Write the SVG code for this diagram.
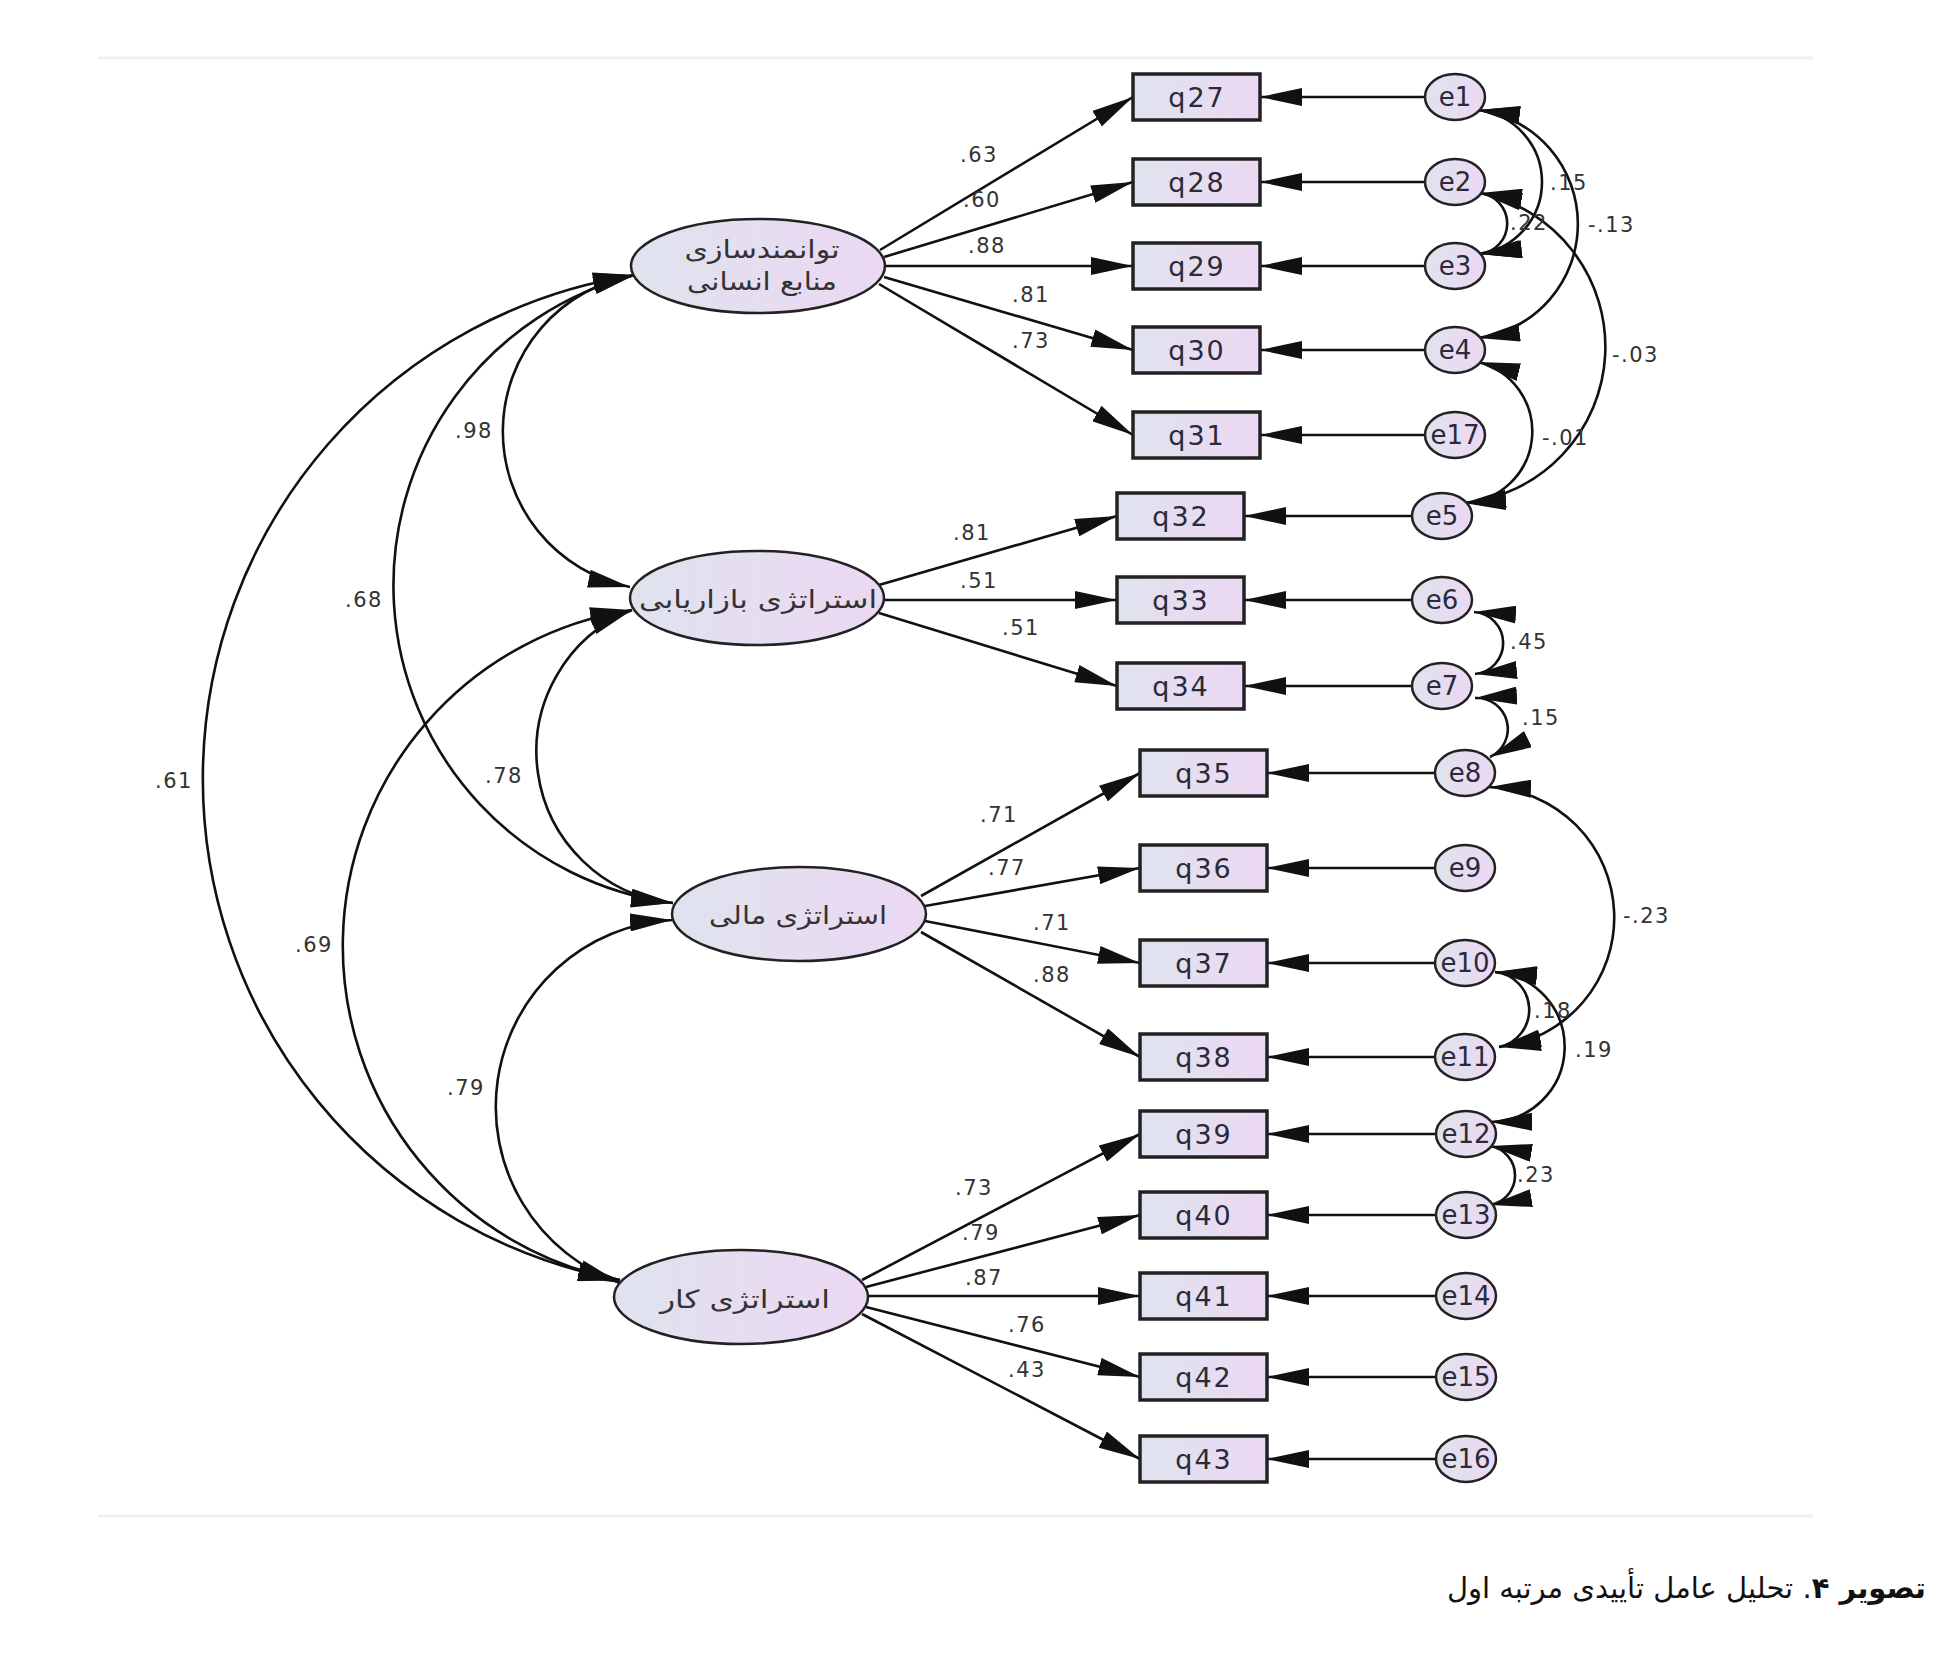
<svg xmlns="http://www.w3.org/2000/svg" width="1953" height="1670" viewBox="0 0 1953 1670">
<defs>
<linearGradient id="g" x1="0" y1="0" x2="1" y2="0">
<stop offset="0" stop-color="#dfe3ee"/>
<stop offset="1" stop-color="#ecd8f3"/>
</linearGradient>
<marker id="ah" markerUnits="userSpaceOnUse" viewBox="0 0 42 18" refX="42" refY="9" markerWidth="42" markerHeight="18" orient="auto-start-reverse">
<path d="M0,0 L42,9 L0,18 Z" fill="#111"/>
</marker>
<style>
.lat{fill:url(#g);stroke:#222;stroke-width:2.5}
.box{fill:url(#g);stroke:#222;stroke-width:3.5}
.err{fill:url(#g);stroke:#222;stroke-width:2.5}
.ln{stroke:#111;stroke-width:2.6;fill:none;marker-end:url(#ah)}
.cov{stroke:#111;stroke-width:2.6;fill:none;marker-start:url(#ah);marker-end:url(#ah)}
.lbl{font-family:"DejaVu Sans",sans-serif;font-size:21px;fill:#333;letter-spacing:1.5px}
.qt{font-family:"DejaVu Sans",sans-serif;font-size:27px;fill:#2a2a3a;letter-spacing:2px;text-anchor:middle}
.et{font-family:"DejaVu Sans",sans-serif;font-size:26px;fill:#2a2a3a;text-anchor:middle}
.pt{font-family:"DejaVu Sans",sans-serif;font-size:25px;fill:#333;text-anchor:middle}
.rule{stroke:#efefef;stroke-width:3}
</style>
</defs>
<rect width="1953" height="1670" fill="#fff"/>
<line class="rule" x1="98" y1="58" x2="1813" y2="58"/>
<line class="rule" x1="98" y1="1516" x2="1813" y2="1516"/>

<g id="connectors">
<line class="ln" x1="880" y1="250" x2="1133" y2="97"/>
<line class="ln" x1="884" y1="257" x2="1133" y2="182"/>
<line class="ln" x1="886" y1="266" x2="1133" y2="266"/>
<line class="ln" x1="884" y1="277" x2="1133" y2="350"/>
<line class="ln" x1="879" y1="284" x2="1133" y2="435"/>
<line class="ln" x1="879" y1="585" x2="1117" y2="516"/>
<line class="ln" x1="884" y1="600" x2="1117" y2="600"/>
<line class="ln" x1="879" y1="613" x2="1117" y2="686"/>
<line class="ln" x1="921" y1="896" x2="1140" y2="773"/>
<line class="ln" x1="925" y1="906" x2="1140" y2="868"/>
<line class="ln" x1="925" y1="921" x2="1140" y2="963"/>
<line class="ln" x1="921" y1="932" x2="1140" y2="1057"/>
<line class="ln" x1="862" y1="1280" x2="1140" y2="1134"/>
<line class="ln" x1="866" y1="1287" x2="1140" y2="1215"/>
<line class="ln" x1="868" y1="1296" x2="1140" y2="1296"/>
<line class="ln" x1="866" y1="1307" x2="1140" y2="1377"/>
<line class="ln" x1="862" y1="1314" x2="1140" y2="1459"/>
<line class="ln" x1="1425" y1="97" x2="1260" y2="97"/>
<line class="ln" x1="1425" y1="182" x2="1260" y2="182"/>
<line class="ln" x1="1425" y1="266" x2="1260" y2="266"/>
<line class="ln" x1="1425" y1="350" x2="1260" y2="350"/>
<line class="ln" x1="1425" y1="435" x2="1260" y2="435"/>
<line class="ln" x1="1412" y1="516" x2="1244" y2="516"/>
<line class="ln" x1="1412" y1="600" x2="1244" y2="600"/>
<line class="ln" x1="1412" y1="686" x2="1244" y2="686"/>
<line class="ln" x1="1435" y1="773" x2="1267" y2="773"/>
<line class="ln" x1="1435" y1="868" x2="1267" y2="868"/>
<line class="ln" x1="1435" y1="963" x2="1267" y2="963"/>
<line class="ln" x1="1435" y1="1057" x2="1267" y2="1057"/>
<line class="ln" x1="1436" y1="1134" x2="1267" y2="1134"/>
<line class="ln" x1="1436" y1="1215" x2="1267" y2="1215"/>
<line class="ln" x1="1436" y1="1296" x2="1267" y2="1296"/>
<line class="ln" x1="1436" y1="1377" x2="1267" y2="1377"/>
<line class="ln" x1="1436" y1="1459" x2="1267" y2="1459"/>
<path class="cov" d="M635,275 A158.7,158.7 0 0 0 630,587"/>
<path class="cov" d="M635,275 A320.2,320.2 0 0 0 673,903"/>
<path class="cov" d="M635,275 A509.7,509.7 0 0 0 620,1280"/>
<path class="cov" d="M632,610 A339.8,339.8 0 0 0 620,1280"/>
<path class="cov" d="M632,610 A152.4,152.4 0 0 0 673,903"/>
<path class="cov" d="M672,920 A187.1,187.1 0 0 0 620,1283"/>
<path class="cov" d="M1478,110 A72.5,72.5 0 0 1 1478,254"/>
<path class="cov" d="M1478,110 A115,115 0 0 1 1478,338"/>
<path class="cov" d="M1480,193 A30.7,30.7 0 0 1 1480,254"/>
<path class="cov" d="M1480,193 A157,157 0 0 1 1464,503"/>
<path class="cov" d="M1478,362 A71.6,71.6 0 0 1 1464,503"/>
<path class="cov" d="M1474,612 A31.1,31.1 0 0 1 1475,674"/>
<path class="cov" d="M1475,698 A31,31 0 0 1 1490,757"/>
<path class="cov" d="M1489,787 A130.5,130.5 0 0 1 1499,1047"/>
<path class="cov" d="M1495,972 A38,38 0 0 1 1499,1047"/>
<path class="cov" d="M1495,972 A75.1,75.1 0 0 1 1490,1122"/>
<path class="cov" d="M1490,1146 A29.9,29.9 0 0 1 1490,1205"/>
</g>

<g id="labels">
<text class="lbl" x="960" y="162">.63</text>
<text class="lbl" x="963" y="207">.60</text>
<text class="lbl" x="968" y="253">.88</text>
<text class="lbl" x="1012" y="302">.81</text>
<text class="lbl" x="1012" y="348">.73</text>
<text class="lbl" x="953" y="540">.81</text>
<text class="lbl" x="960" y="588">.51</text>
<text class="lbl" x="1002" y="635">.51</text>
<text class="lbl" x="980" y="822">.71</text>
<text class="lbl" x="988" y="875">.77</text>
<text class="lbl" x="1033" y="930">.71</text>
<text class="lbl" x="1033" y="982">.88</text>
<text class="lbl" x="955" y="1195">.73</text>
<text class="lbl" x="962" y="1240">.79</text>
<text class="lbl" x="965" y="1285">.87</text>
<text class="lbl" x="1008" y="1332">.76</text>
<text class="lbl" x="1008" y="1377">.43</text>
<text class="lbl" x="455" y="438">.98</text>
<text class="lbl" x="345" y="607">.68</text>
<text class="lbl" x="485" y="783">.78</text>
<text class="lbl" x="155" y="788">.61</text>
<text class="lbl" x="295" y="952">.69</text>
<text class="lbl" x="447" y="1095">.79</text>
<text class="lbl" x="1550" y="190">.15</text>
<text class="lbl" x="1588" y="232">-.13</text>
<text class="lbl" x="1510" y="230">.22</text>
<text class="lbl" x="1612" y="362">-.03</text>
<text class="lbl" x="1542" y="445">-.01</text>
<text class="lbl" x="1510" y="649">.45</text>
<text class="lbl" x="1522" y="725">.15</text>
<text class="lbl" x="1623" y="923">-.23</text>
<text class="lbl" x="1534" y="1018">.18</text>
<text class="lbl" x="1575" y="1057">.19</text>
<text class="lbl" x="1517" y="1182">.23</text>
</g>

<g id="F1"><ellipse class="lat" cx="758" cy="266" rx="127" ry="47"/><text class="pt" x="762" y="258" textLength="155" lengthAdjust="spacingAndGlyphs">توانمندسازی</text><text class="pt" x="762" y="290" textLength="150" lengthAdjust="spacingAndGlyphs">منابع انسانی</text></g>
<g id="F2"><ellipse class="lat" cx="757" cy="598" rx="127" ry="47"/><text class="pt" x="758" y="608" textLength="238" lengthAdjust="spacingAndGlyphs">استراتژی بازاریابی</text></g>
<g id="F3"><ellipse class="lat" cx="799" cy="914" rx="127" ry="47"/><text class="pt" x="798" y="924" textLength="178" lengthAdjust="spacingAndGlyphs">استراتژی مالی</text></g>
<g id="F4"><ellipse class="lat" cx="741" cy="1297" rx="127" ry="47"/><text class="pt" x="745" y="1308" textLength="170" lengthAdjust="spacingAndGlyphs">استراتژی کار</text></g>

<g id="q27"><rect class="box" x="1133" y="74" width="127" height="46"/><text class="qt" x="1197" y="107">q27</text></g>
<g id="q28"><rect class="box" x="1133" y="159" width="127" height="46"/><text class="qt" x="1197" y="192">q28</text></g>
<g id="q29"><rect class="box" x="1133" y="243" width="127" height="46"/><text class="qt" x="1197" y="276">q29</text></g>
<g id="q30"><rect class="box" x="1133" y="327" width="127" height="46"/><text class="qt" x="1197" y="360">q30</text></g>
<g id="q31"><rect class="box" x="1133" y="412" width="127" height="46"/><text class="qt" x="1197" y="445">q31</text></g>
<g id="q32"><rect class="box" x="1117" y="493" width="127" height="46"/><text class="qt" x="1181" y="526">q32</text></g>
<g id="q33"><rect class="box" x="1117" y="577" width="127" height="46"/><text class="qt" x="1181" y="610">q33</text></g>
<g id="q34"><rect class="box" x="1117" y="663" width="127" height="46"/><text class="qt" x="1181" y="696">q34</text></g>
<g id="q35"><rect class="box" x="1140" y="750" width="127" height="46"/><text class="qt" x="1204" y="783">q35</text></g>
<g id="q36"><rect class="box" x="1140" y="845" width="127" height="46"/><text class="qt" x="1204" y="878">q36</text></g>
<g id="q37"><rect class="box" x="1140" y="940" width="127" height="46"/><text class="qt" x="1204" y="973">q37</text></g>
<g id="q38"><rect class="box" x="1140" y="1034" width="127" height="46"/><text class="qt" x="1204" y="1067">q38</text></g>
<g id="q39"><rect class="box" x="1140" y="1111" width="127" height="46"/><text class="qt" x="1204" y="1144">q39</text></g>
<g id="q40"><rect class="box" x="1140" y="1192" width="127" height="46"/><text class="qt" x="1204" y="1225">q40</text></g>
<g id="q41"><rect class="box" x="1140" y="1273" width="127" height="46"/><text class="qt" x="1204" y="1306">q41</text></g>
<g id="q42"><rect class="box" x="1140" y="1354" width="127" height="46"/><text class="qt" x="1204" y="1387">q42</text></g>
<g id="q43"><rect class="box" x="1140" y="1436" width="127" height="46"/><text class="qt" x="1204" y="1469">q43</text></g>

<g id="e1"><ellipse class="err" cx="1455" cy="97" rx="30" ry="23"/><text class="et" x="1455" y="106">e1</text></g>
<g id="e2"><ellipse class="err" cx="1455" cy="182" rx="30" ry="23"/><text class="et" x="1455" y="191">e2</text></g>
<g id="e3"><ellipse class="err" cx="1455" cy="266" rx="30" ry="23"/><text class="et" x="1455" y="275">e3</text></g>
<g id="e4"><ellipse class="err" cx="1455" cy="350" rx="30" ry="23"/><text class="et" x="1455" y="359">e4</text></g>
<g id="e17"><ellipse class="err" cx="1455" cy="435" rx="30" ry="23"/><text class="et" x="1455" y="444">e17</text></g>
<g id="e5"><ellipse class="err" cx="1442" cy="516" rx="30" ry="23"/><text class="et" x="1442" y="525">e5</text></g>
<g id="e6"><ellipse class="err" cx="1442" cy="600" rx="30" ry="23"/><text class="et" x="1442" y="609">e6</text></g>
<g id="e7"><ellipse class="err" cx="1442" cy="686" rx="30" ry="23"/><text class="et" x="1442" y="695">e7</text></g>
<g id="e8"><ellipse class="err" cx="1465" cy="773" rx="30" ry="23"/><text class="et" x="1465" y="782">e8</text></g>
<g id="e9"><ellipse class="err" cx="1465" cy="868" rx="30" ry="23"/><text class="et" x="1465" y="877">e9</text></g>
<g id="e10"><ellipse class="err" cx="1465" cy="963" rx="30" ry="23"/><text class="et" x="1465" y="972">e10</text></g>
<g id="e11"><ellipse class="err" cx="1465" cy="1057" rx="30" ry="23"/><text class="et" x="1465" y="1066">e11</text></g>
<g id="e12"><ellipse class="err" cx="1466" cy="1134" rx="30" ry="23"/><text class="et" x="1466" y="1143">e12</text></g>
<g id="e13"><ellipse class="err" cx="1466" cy="1215" rx="30" ry="23"/><text class="et" x="1466" y="1224">e13</text></g>
<g id="e14"><ellipse class="err" cx="1466" cy="1296" rx="30" ry="23"/><text class="et" x="1466" y="1305">e14</text></g>
<g id="e15"><ellipse class="err" cx="1466" cy="1377" rx="30" ry="23"/><text class="et" x="1466" y="1386">e15</text></g>
<g id="e16"><ellipse class="err" cx="1466" cy="1459" rx="30" ry="23"/><text class="et" x="1466" y="1468">e16</text></g>

<g id="caption"><text x="1926" y="1598" style="direction:rtl;unicode-bidi:embed" text-anchor="start" font-family="'DejaVu Sans',sans-serif" font-size="29" fill="#111"><tspan font-weight="bold">تصویر ۴</tspan>. تحلیل عامل تأییدی مرتبه اول</text></g>
</svg>
